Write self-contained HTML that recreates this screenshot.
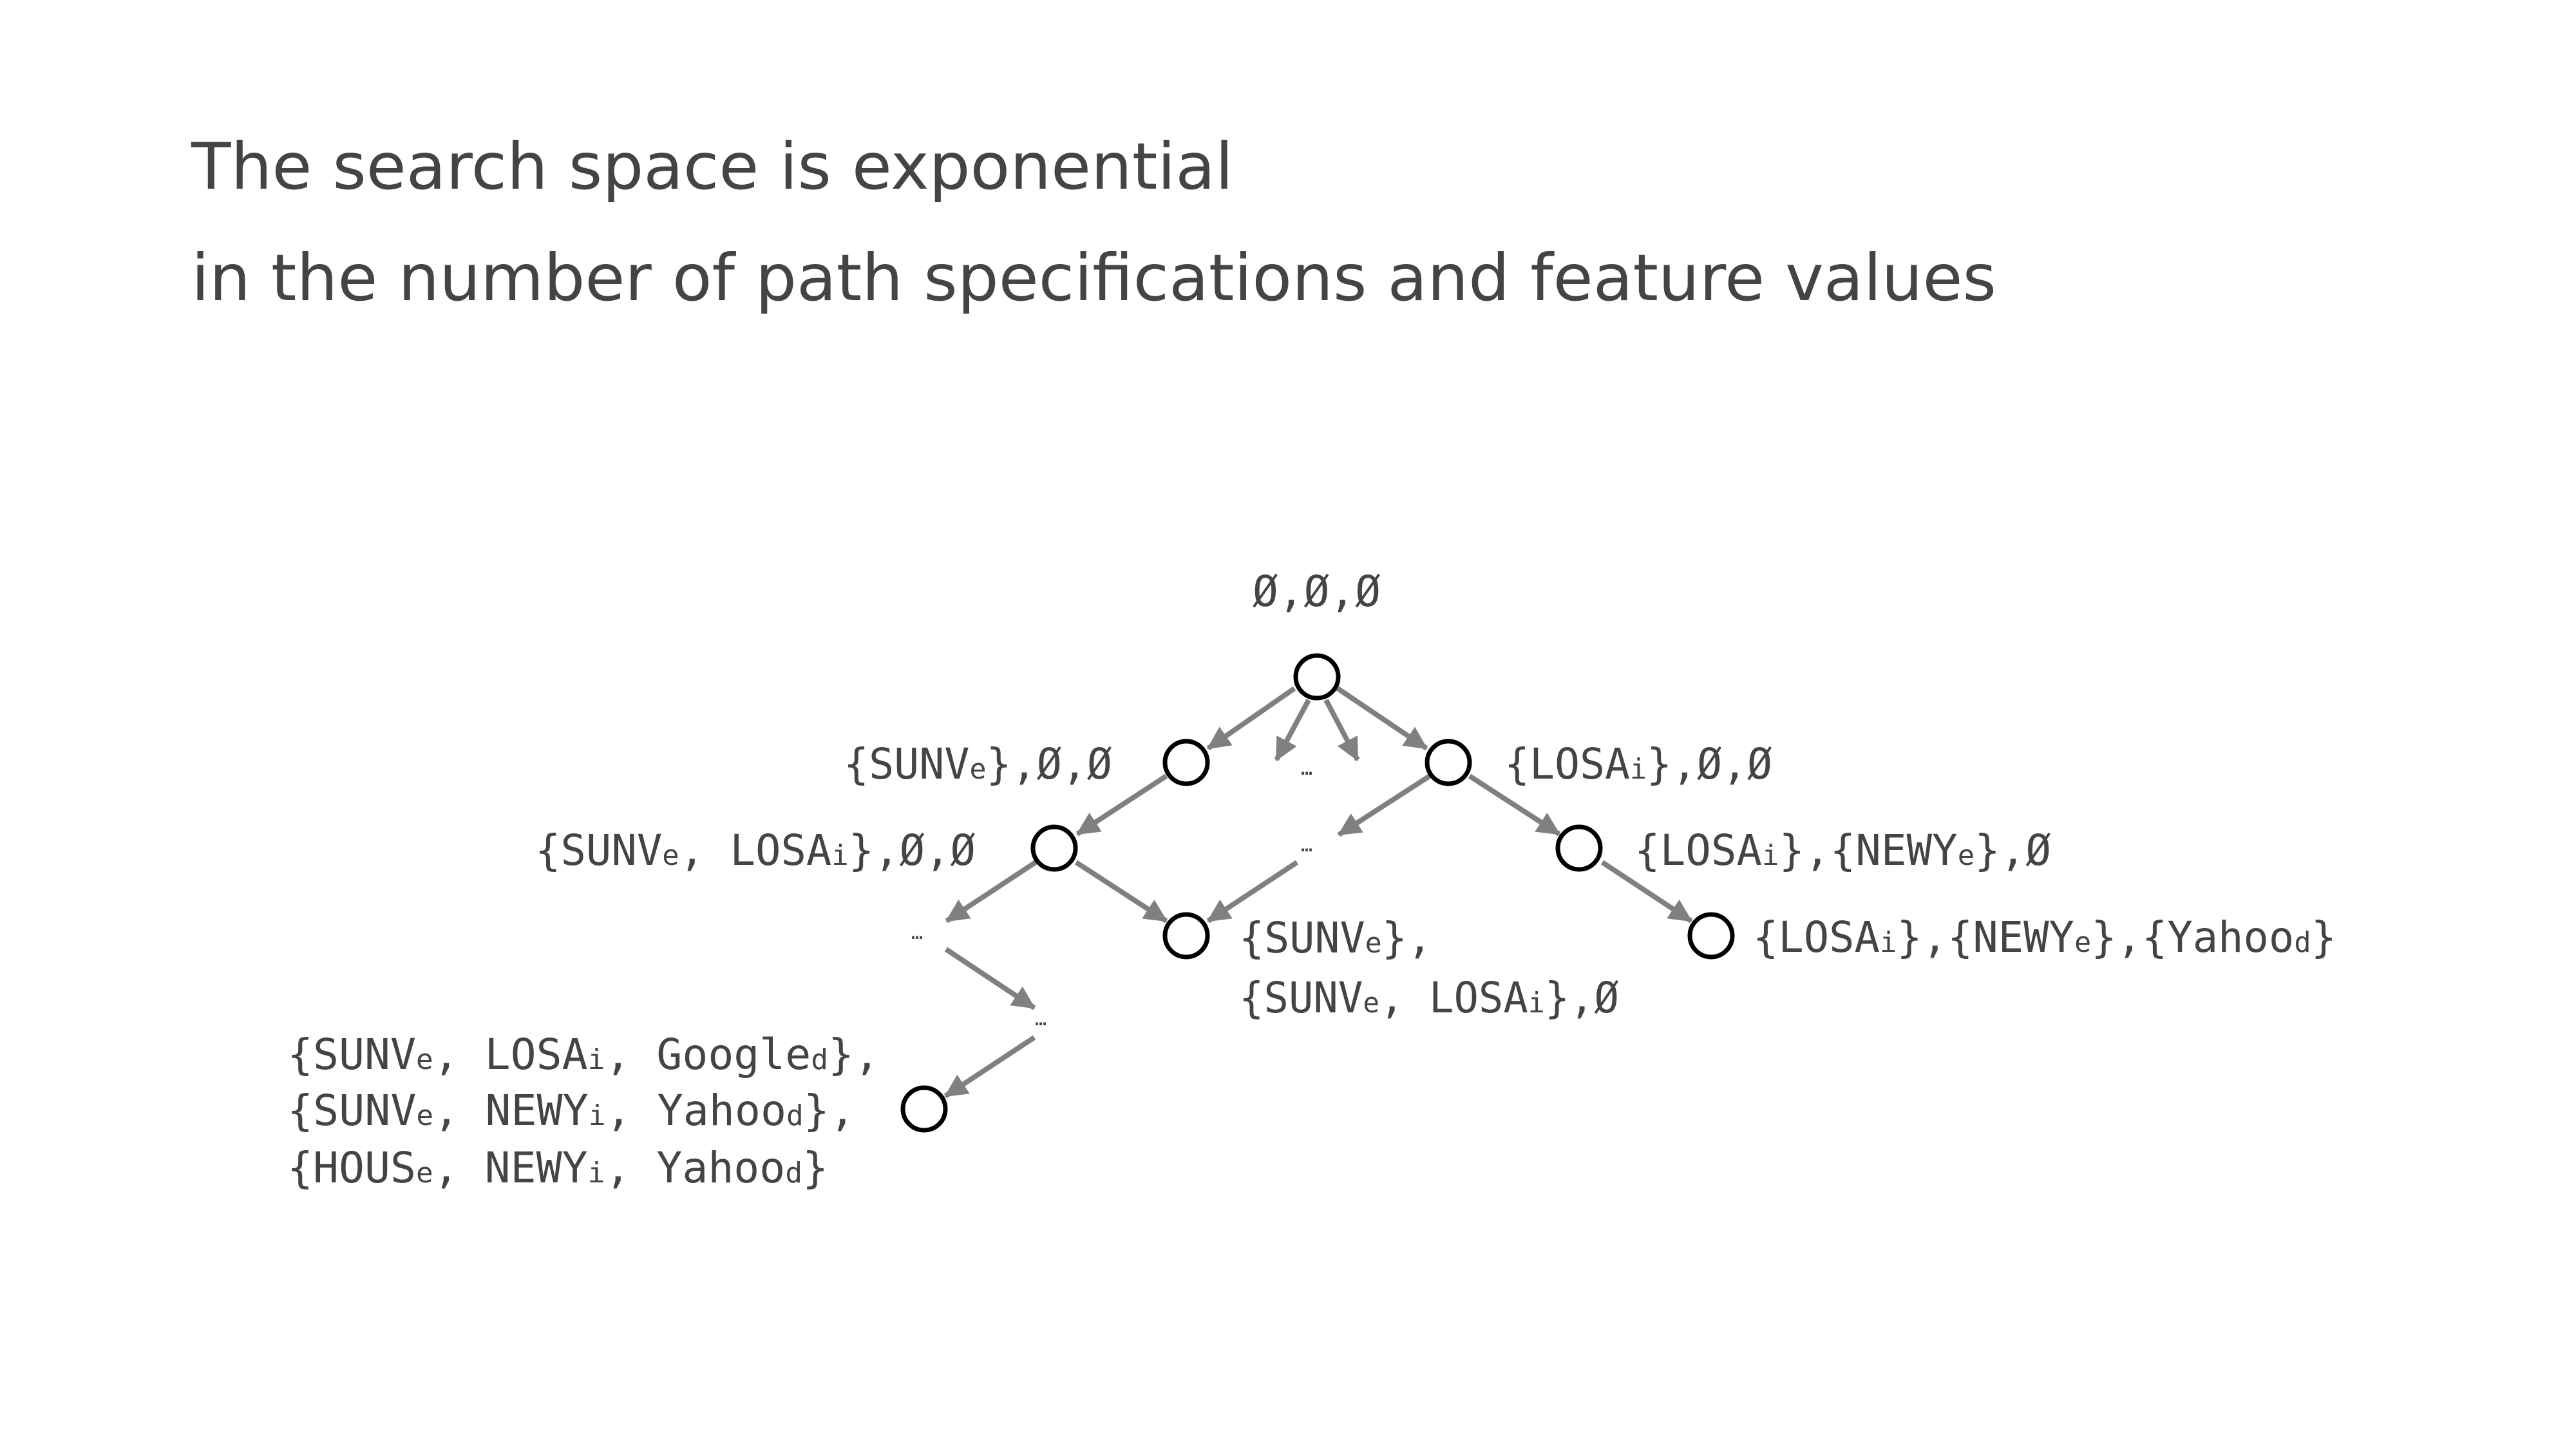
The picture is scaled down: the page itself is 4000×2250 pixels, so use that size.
<!DOCTYPE html>
<html><head><meta charset="utf-8"><style>html,body{margin:0;padding:0;background:#fff}svg{display:block}</style></head>
<body>
<svg width="4000" height="2250" viewBox="0 0 4000 2250" xmlns="http://www.w3.org/2000/svg">
<defs>
<marker id="ah" markerWidth="5" markerHeight="5" refX="4.2" refY="2.5" orient="auto" markerUnits="strokeWidth">
<path d="M0,0.3 L4.5,2.5 L0,4.7 z" fill="#808080"/>
</marker>
</defs>
<g font-family="'DejaVu Sans','Liberation Sans',sans-serif" fill="#444" font-size="100">
<text x="297" y="293" textLength="1618" lengthAdjust="spacingAndGlyphs">The search space is exponential</text>
<text x="297" y="466" textLength="2803" lengthAdjust="spacingAndGlyphs">in the number of path specifications and feature values</text>
</g>
<g stroke="#808080" stroke-width="8" marker-end="url(#ah)">
<line x1="2010" y1="1069" x2="1876" y2="1162"/>
<line x1="2032" y1="1087" x2="1982" y2="1180"/>
<line x1="2059" y1="1087" x2="2108" y2="1180"/>
<line x1="2077" y1="1069" x2="2215" y2="1162"/>
<line x1="1811" y1="1205" x2="1673" y2="1295"/>
<line x1="2220" y1="1205" x2="2079" y2="1296"/>
<line x1="2282" y1="1205" x2="2421" y2="1295"/>
<line x1="1608" y1="1339" x2="1470" y2="1430"/>
<line x1="1671" y1="1339" x2="1811" y2="1430"/>
<line x1="2014" y1="1339" x2="1876" y2="1430"/>
<line x1="2488" y1="1339" x2="2626" y2="1430"/>
<line x1="1469" y1="1474" x2="1606" y2="1565"/>
<line x1="1606" y1="1611" x2="1468" y2="1702"/>
</g>
<g fill="#fff" stroke="#000" stroke-width="7">
<circle cx="2045" cy="1051" r="33"/>
<circle cx="1842" cy="1184" r="33"/>
<circle cx="2249" cy="1184" r="33"/>
<circle cx="1637" cy="1317" r="33"/>
<circle cx="2452" cy="1317" r="33"/>
<circle cx="1842" cy="1453" r="33"/>
<circle cx="2657" cy="1453" r="33"/>
<circle cx="1435" cy="1722" r="33"/>
</g>
<g font-family="'DejaVu Sans Mono','Liberation Mono',monospace" fill="#444" font-size="66" lengthAdjust="spacingAndGlyphs">
<text x="1945" y="941" textLength="199" lengthAdjust="spacingAndGlyphs">Ø,Ø,Ø</text>
<text x="1310" y="1209" textLength="417" lengthAdjust="spacingAndGlyphs">{SUNV<tspan font-size="44">e</tspan>},Ø,Ø</text>
<text x="2336" y="1209" textLength="416" lengthAdjust="spacingAndGlyphs">{LOSA<tspan font-size="44">i</tspan>},Ø,Ø</text>
<text x="831" y="1343" textLength="684" lengthAdjust="spacingAndGlyphs">{SUNV<tspan font-size="44">e</tspan>, LOSA<tspan font-size="44">i</tspan>},Ø,Ø</text>
<text x="2538" y="1343" textLength="647" lengthAdjust="spacingAndGlyphs">{LOSA<tspan font-size="44">i</tspan>},{NEWY<tspan font-size="44">e</tspan>},Ø</text>
<text x="2722" y="1478" textLength="906" lengthAdjust="spacingAndGlyphs">{LOSA<tspan font-size="44">i</tspan>},{NEWY<tspan font-size="44">e</tspan>},{Yahoo<tspan font-size="44">d</tspan>}</text>
<text x="1924" y="1479" textLength="300" lengthAdjust="spacingAndGlyphs">{SUNV<tspan font-size="44">e</tspan>},</text>
<text x="1924" y="1572" textLength="590" lengthAdjust="spacingAndGlyphs">{SUNV<tspan font-size="44">e</tspan>, LOSA<tspan font-size="44">i</tspan>},Ø</text>
<text x="446" y="1660" textLength="920" lengthAdjust="spacingAndGlyphs">{SUNV<tspan font-size="44">e</tspan>, LOSA<tspan font-size="44">i</tspan>, Google<tspan font-size="44">d</tspan>},</text>
<text x="446" y="1747" textLength="882" lengthAdjust="spacingAndGlyphs">{SUNV<tspan font-size="44">e</tspan>, NEWY<tspan font-size="44">i</tspan>, Yahoo<tspan font-size="44">d</tspan>},</text>
<text x="446" y="1836" textLength="840" lengthAdjust="spacingAndGlyphs">{HOUS<tspan font-size="44">e</tspan>, NEWY<tspan font-size="44">i</tspan>, Yahoo<tspan font-size="44">d</tspan>}</text>
<g font-size="30"><text x="2020" y="1203">…</text><text x="2020" y="1322">…</text><text x="1415" y="1458">…</text><text x="1607" y="1592">…</text></g>
</g>
</svg>
</body></html>
